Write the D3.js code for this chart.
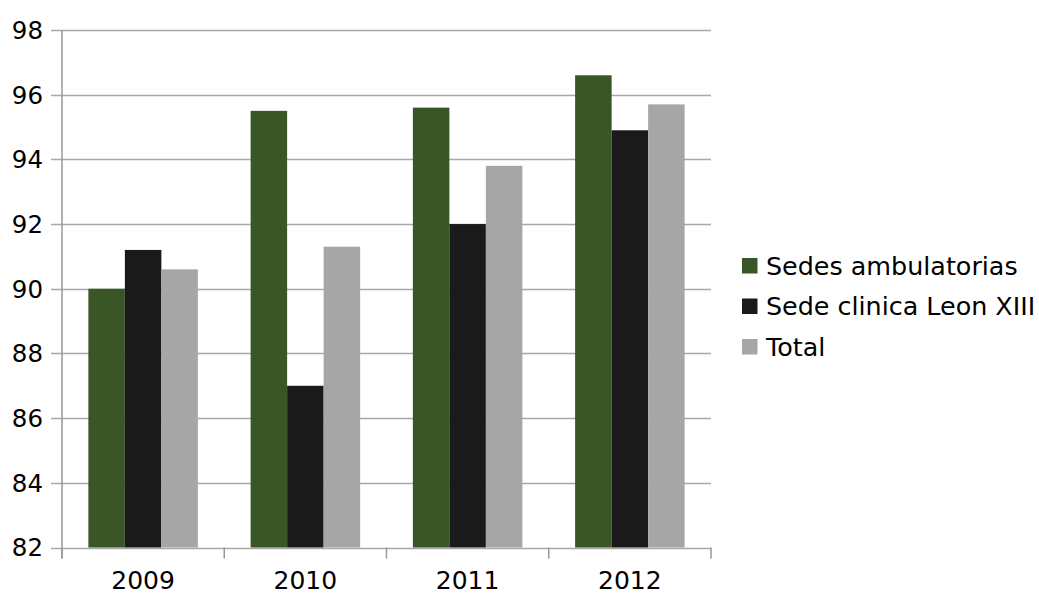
<!DOCTYPE html>
<html><head><meta charset="utf-8">
<script src="https://cdn.jsdelivr.net/npm/d3@7"></script>
<style>body{margin:0;background:#fff}svg{display:block}text{font-family:"DejaVu Sans",sans-serif}</style>
</head><body>
<script>
const years = ["2009","2010","2011","2012"];
const seriesNames = ["Sedes ambulatorias","Sede clinica Leon XIII","Total"];
const ambulatorias = [90.0, 95.5, 95.6, 96.6];
const leonXIII = [91.2, 87.0, 92.0, 94.9];
const total = [90.6, 91.3, 93.8, 95.7];
const yTicks = [82,84,86,88,90,92,94,96,98];
const colors = ["#3a5526","#1a1a1a","#a6a6a6"];
const seriesValues = [ambulatorias, leonXIII, total];

(function(){
const W=1039,H=593;
const pL=62,pR=711,pT=30,pB=547.5;
const svg=d3.select("body").append("svg").attr("width",W).attr("height",H);

const y=d3.scaleLinear().domain([82,98]).range([pB,pT]);
const x0=d3.scaleBand().domain(years).range([pL,pR]).paddingInner(0.325).paddingOuter(0.1625);
const x1=d3.scaleBand().domain(seriesNames).range([0,x0.bandwidth()]);
const xb=d3.scaleBand().domain(years).range([pL,pR]);

svg.append("g").selectAll("line").data(yTicks).join("line")
  .attr("x1",51).attr("x2",pR).attr("y1",d=>Math.round(y(d))+0.5).attr("y2",d=>Math.round(y(d))+0.5)
  .attr("stroke","#a8a8a8").attr("stroke-width",1.5);

const data=[];
years.forEach((yr,i)=>seriesNames.forEach((s,j)=>data.push({yr,s,v:seriesValues[j][i],c:colors[j]})));
svg.append("g").selectAll("rect").data(data).join("rect")
  .attr("x",d=>x0(d.yr)+x1(d.s)).attr("width",x1.bandwidth())
  .attr("y",d=>y(d.v)).attr("height",d=>y(82)-y(d.v)).attr("fill",d=>d.c);

svg.append("line").attr("x1",pL).attr("x2",pL).attr("y1",pT).attr("y2",pB+11)
  .attr("stroke","#999").attr("stroke-width",1.5);
const bounds=years.map(d=>xb(d)).concat([pR]);
svg.append("g").selectAll("line").data(bounds).join("line")
  .attr("x1",d=>d).attr("x2",d=>d).attr("y1",pB).attr("y2",pB+11)
  .attr("stroke","#999").attr("stroke-width",1.5);

svg.append("g").selectAll("text").data(yTicks).join("text")
  .attr("x",43).attr("y",d=>y(d)).attr("dy","0.36em").attr("text-anchor","end")
  .attr("font-size",24.5).attr("fill","#000").text(d=>d);

svg.append("g").selectAll("text").data(years).join("text")
  .attr("x",d=>xb(d)+xb.bandwidth()/2).attr("y",589).attr("text-anchor","middle")
  .attr("font-size",25).attr("fill","#000").text(d=>d);

const lg=svg.append("g").selectAll("g").data(seriesNames).join("g")
  .attr("transform",(d,i)=>`translate(742,${258+i*40.5})`);
lg.append("rect").attr("width",15.5).attr("height",15.5).attr("fill",(d,i)=>colors[i]);
lg.append("text").attr("x",24).attr("y",16.5).attr("font-size",25.4).attr("fill","#000").text(d=>d);
})();
</script>
</body></html>
